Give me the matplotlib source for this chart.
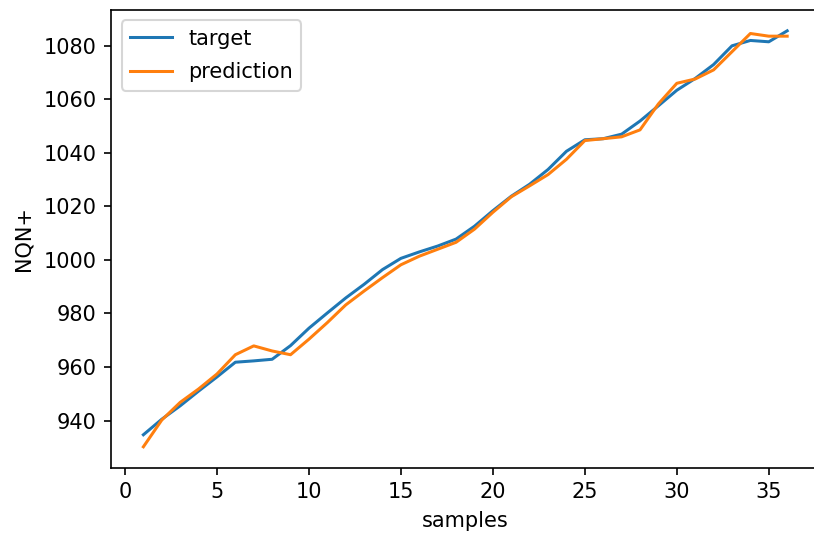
import matplotlib
matplotlib.use("Agg")
import matplotlib.pyplot as plt

samples = list(range(1, 37))
target = [934.7, 940.5, 945.5, 951.0, 956.3, 961.8, 962.3, 962.9, 968.0, 974.5,
          980.2, 985.8, 990.9, 996.4, 1000.6, 1003.0, 1005.2, 1007.8, 1012.6, 1018.4,
          1023.8, 1028.3, 1033.8, 1040.6, 1044.9, 1045.3, 1047.0, 1051.9, 1057.6, 1063.4,
          1067.8, 1073.0, 1080.0, 1082.0, 1081.5, 1085.6]
prediction = [930.2, 940.2, 946.8, 951.8, 957.4, 964.6, 967.9, 966.0, 964.6, 970.4,
              976.6, 983.2, 988.4, 993.4, 998.2, 1001.4, 1004.0, 1006.6, 1011.5, 1017.8,
              1023.6, 1027.7, 1031.9, 1037.6, 1044.6, 1045.3, 1046.0, 1048.6, 1058.3, 1066.0,
              1067.6, 1071.0, 1077.8, 1084.6, 1083.6, 1083.6]

dpi = 150
fig = plt.figure(figsize=(814 / dpi, 533 / dpi), dpi=dpi)
ax = fig.add_axes([0.1366, 0.1227, 0.8700, 0.8585])
ax.plot(samples, target, label="target", lw=1.45)
ax.plot(samples, prediction, label="prediction", lw=1.45)
ax.set_xlabel("samples")
ax.set_ylabel("NQN+", labelpad=5)
ax.spines["right"].set_visible(False)
ax.legend(loc="upper left", labelspacing=0.65)
fig.savefig("out.png", dpi=dpi)
